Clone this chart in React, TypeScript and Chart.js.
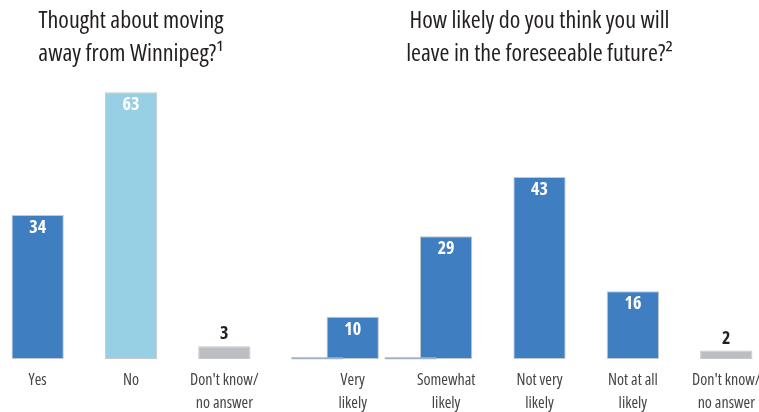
import React, { useEffect, useRef } from "react";
import { Chart, registerables } from "chart.js";
Chart.register(...registerables);

const leftTitle = ["Thought about moving", "away from Winnipeg?\u00B9"];
const leftCategories = [["Yes"], ["No"], ["Don't know/", "no answer"]];
const leftValues = [34, 63, 3];
const leftColors = ["#3f7fc1", "#97cfe5", "#bdbec1"];

const rightTitle = ["How likely do you think you will", "leave in the foreseeable future?\u00B2"];
const rightCategories = [
  ["Very", "likely"],
  ["Somewhat", "likely"],
  ["Not very", "likely"],
  ["Not at all", "likely"],
  ["Don't know/", "no answer"],
];
const rightValues = [10, 29, 43, 16, 2];
const rightColors = ["#3f7fc1", "#3f7fc1", "#3f7fc1", "#3f7fc1", "#bdbec1"];

// thin near-zero stubs at the baseline, left of the first two bars
const rightStubPositions = [-0.38, 0.62];
const rightStubValues = [0.35, 0.35];

const FONT = "'Open Sans', sans-serif";
const Y_MAX = 68;

const valueLabels = {
  id: "valueLabels",
  afterDatasetsDraw(chart: any) {
    const ctx = chart.ctx;
    const meta = chart.getDatasetMeta(0);
    const data = chart.data.datasets[0].data as number[];
    ctx.save();
    ctx.font = `normal bold condensed 18px ${FONT}`;
    ctx.textAlign = "center";
    ctx.textBaseline = "middle";
    meta.data.forEach((bar: any, i: number) => {
      const h = bar.base - bar.y;
      if (h < 30) {
        ctx.fillStyle = "#231f20";
        ctx.fillText(String(data[i]), bar.x, bar.y - 12);
      } else {
        ctx.fillStyle = "#ffffff";
        ctx.fillText(String(data[i]), bar.x, bar.y + 13);
      }
    });
    ctx.restore();
  },
};

function makeConfig(title: string[], cats: string[][], vals: number[], colors: string[], stubs: boolean, padLeft: number): any {
  const datasets: any[] = [
    {
      data: vals,
      backgroundColor: colors,
      borderColor: "rgba(190,195,200,0.9)",
      borderWidth: 1,
      borderSkipped: false,
      barPercentage: 0.56,
      categoryPercentage: 1,
      grouped: false,
      order: 1,
    },
  ];
  if (stubs) {
    datasets.push({
      data: rightStubPositions.map((x, i) => ({ x, y: rightStubValues[i] })),
      xAxisID: "x2",
      backgroundColor: "#9fb4ca",
      borderWidth: 0,
      barThickness: 51,
      grouped: false,
      clip: false,
      order: 0,
    });
  }
  const scales: any = {
    x: {
      grid: { display: false, drawTicks: false },
      border: { display: false },
      ticks: {
        color: "#454545",
        font: { family: FONT, size: 16, weight: "condensed", lineHeight: 1.45 },
        padding: 10,
        maxRotation: 0,
        autoSkip: false,
      },
      afterFit: (scale: any) => {
        scale.height = 53;
      },
    },
    y: {
      display: false,
      min: 0,
      max: Y_MAX,
    },
  };
  if (stubs) {
    scales.x2 = {
      type: "linear",
      display: false,
      offset: false,
      grid: { offset: false },
      min: -0.5,
      max: cats.length - 0.5,
    };
  }
  return {
    type: "bar",
    data: { labels: cats, datasets },
    options: {
      responsive: false,
      animation: false,
      layout: { padding: { left: padLeft } },
      plugins: {
        legend: { display: false },
        tooltip: { enabled: false },
        title: {
          display: true,
          text: title,
          color: "#231f20",
          font: { family: FONT, size: 24, weight: "condensed", lineHeight: 1.375 },
          padding: { top: 5, bottom: 0 },
        },
      },
      scales,
    },
    plugins: [valueLabels],
  };
}

function BarPanel(props: any) {
  const ref = useRef<HTMLCanvasElement>(null);
  useEffect(() => {
    if (!ref.current) return;
    const chart = new Chart(ref.current, makeConfig(props.title, props.cats, props.vals, props.colors, props.stubs, props.padLeft));
    return () => chart.destroy();
  }, []);
  return (
    <canvas
      ref={ref}
      width={props.width}
      height={412}
      style={{ position: "absolute", left: props.left, top: 0, width: props.width, height: 412 }}
    />
  );
}

export default function App() {
  return (
    <div style={{ position: "fixed", left: 0, top: 0, width: 759, height: 412, overflow: "hidden", background: "#fff" }}>
      <BarPanel left={-9} width={280} padLeft={0} stubs={false} title={leftTitle} cats={leftCategories} vals={leftValues} colors={leftColors} />
      <BarPanel left={288} width={485} padLeft={18} stubs={true} title={rightTitle} cats={rightCategories} vals={rightValues} colors={rightColors} />
    </div>
  );
}
